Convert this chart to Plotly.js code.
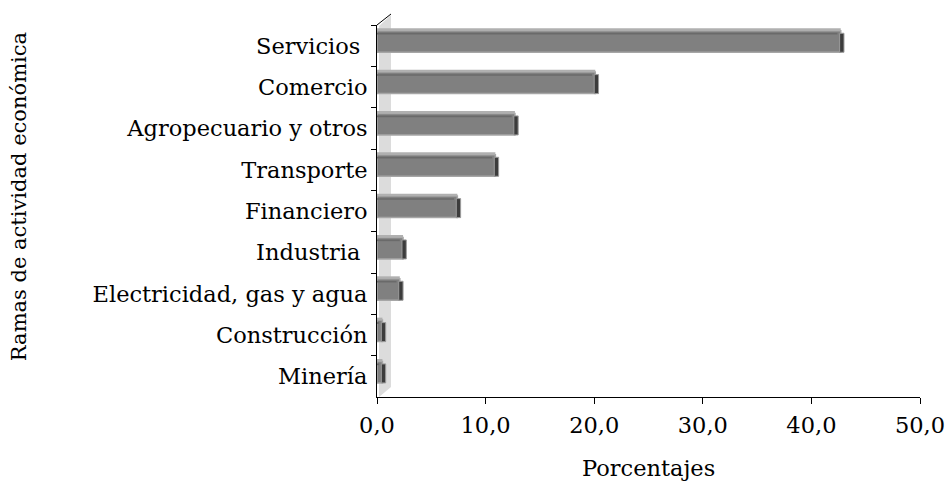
<!DOCTYPE html>
<html>
<head>
<meta charset="utf-8">
<script src="https://cdn.plot.ly/plotly-3.0.1.min.js"></script>
<style>html,body{margin:0;padding:0;background:#fff;}#chart{width:948px;height:481px;}</style>
</head>
<body>
<div id="chart"></div>
<script>
const categories = ['Servicios\u00a0', 'Comercio', 'Agropecuario y otros', 'Transporte', 'Financiero', 'Industria\u00a0', 'Electricidad, gas y agua', 'Construcción', 'Minería'];
const values = [42.7, 20.1, 12.7, 10.9, 7.4, 2.4, 2.1, 0.5, 0.5];
const xTitle = 'Porcentajes';
const yTitle = 'Ramas de actividad económica';

const FONT = 'DejaVu Serif, Liberation Serif, serif';

const front = {
  type: 'bar', orientation: 'h', x: values, y: categories,
  width: 0.52, offset: -0.36,
  marker: {color: '#808080', line: {color: '#a6a6a6', width: 1.5}},
  hoverinfo: 'x+y', showlegend: false
};
const topFace = {
  type: 'bar', orientation: 'h', x: values, y: categories,
  width: 0.06, offset: -0.42,
  marker: {color: '#b0b0b0', line: {width: 0}},
  hoverinfo: 'skip', showlegend: false
};
const topEdge = {
  type: 'bar', orientation: 'h', x: values.map(v => Math.max(v - 0.3, 0)), y: categories,
  width: 0.04, offset: -0.31,
  marker: {color: '#6a6a6a', line: {width: 0}},
  hoverinfo: 'skip', showlegend: false
};
const endCap = {
  type: 'bar', orientation: 'h', x: values.map(() => 0.4), base: values.map(v => v - 0.1), y: categories,
  width: 0.46, offset: -0.3,
  marker: {color: '#3c3c3c', line: {color: '#9c9c9c', width: 1}},
  hoverinfo: 'skip', showlegend: false
};

const layout = {
  width: 948, height: 481,
  margin: {l: 377, r: 28, t: 25, b: 84},
  paper_bgcolor: '#ffffff', plot_bgcolor: '#ffffff',
  font: {family: FONT, size: 22.5, color: '#000000'},
  separators: ',.',
  barmode: 'overlay',
  xaxis: {
    range: [0, 50], dtick: 10, tick0: 0, tickformat: '.1f',
    showline: true, linecolor: '#000', linewidth: 1,
    ticks: 'outside', ticklen: 6, tickcolor: '#000', tickwidth: 1,
    ticklabelstandoff: 2,
    showgrid: false, zeroline: false, fixedrange: true,
    tickfont: {family: FONT, size: 22.5, color: '#000'}
  },
  yaxis: {
    type: 'category', autorange: 'reversed',
    showline: true, linecolor: '#000', linewidth: 1,
    ticks: 'outside', ticklen: 5, tickcolor: '#000', tickwidth: 1,
    tickson: 'boundaries', ticklabelstandoff: 4,
    showgrid: false, zeroline: false, fixedrange: true,
    tickfont: {family: FONT, size: 22.5, color: '#000'}
  },
  shapes: [
    {type: 'path', xref: 'paper', yref: 'paper', layer: 'below',
     path: 'M 0.0037 0.9973 L 0.0258 1.0269 L 0.0258 0.0269 L 0.0037 0 Z',
     fillcolor: '#dcdcdc', line: {width: 0}},
    {type: 'line', xref: 'paper', yref: 'paper', x0: 0, y0: 1, x1: 0.0258, y1: 1.0296,
     line: {color: '#000', width: 1}}
  ],
  annotations: [
    {text: xTitle, xref: 'paper', yref: 'paper', x: 0.5, y: -0.19, xanchor: 'center', yanchor: 'middle',
     showarrow: false, font: {family: FONT, size: 22.5, color: '#000'}},
    {text: yTitle, xref: 'paper', yref: 'paper', x: -0.659, y: 0.5376, xanchor: 'center', yanchor: 'middle',
     textangle: -90, showarrow: false, font: {family: FONT, size: 21, color: '#000'}}
  ]
};

Plotly.newPlot('chart', [front, topFace, topEdge, endCap], layout, {displayModeBar: false, staticPlot: true});
</script>
</body>
</html>
